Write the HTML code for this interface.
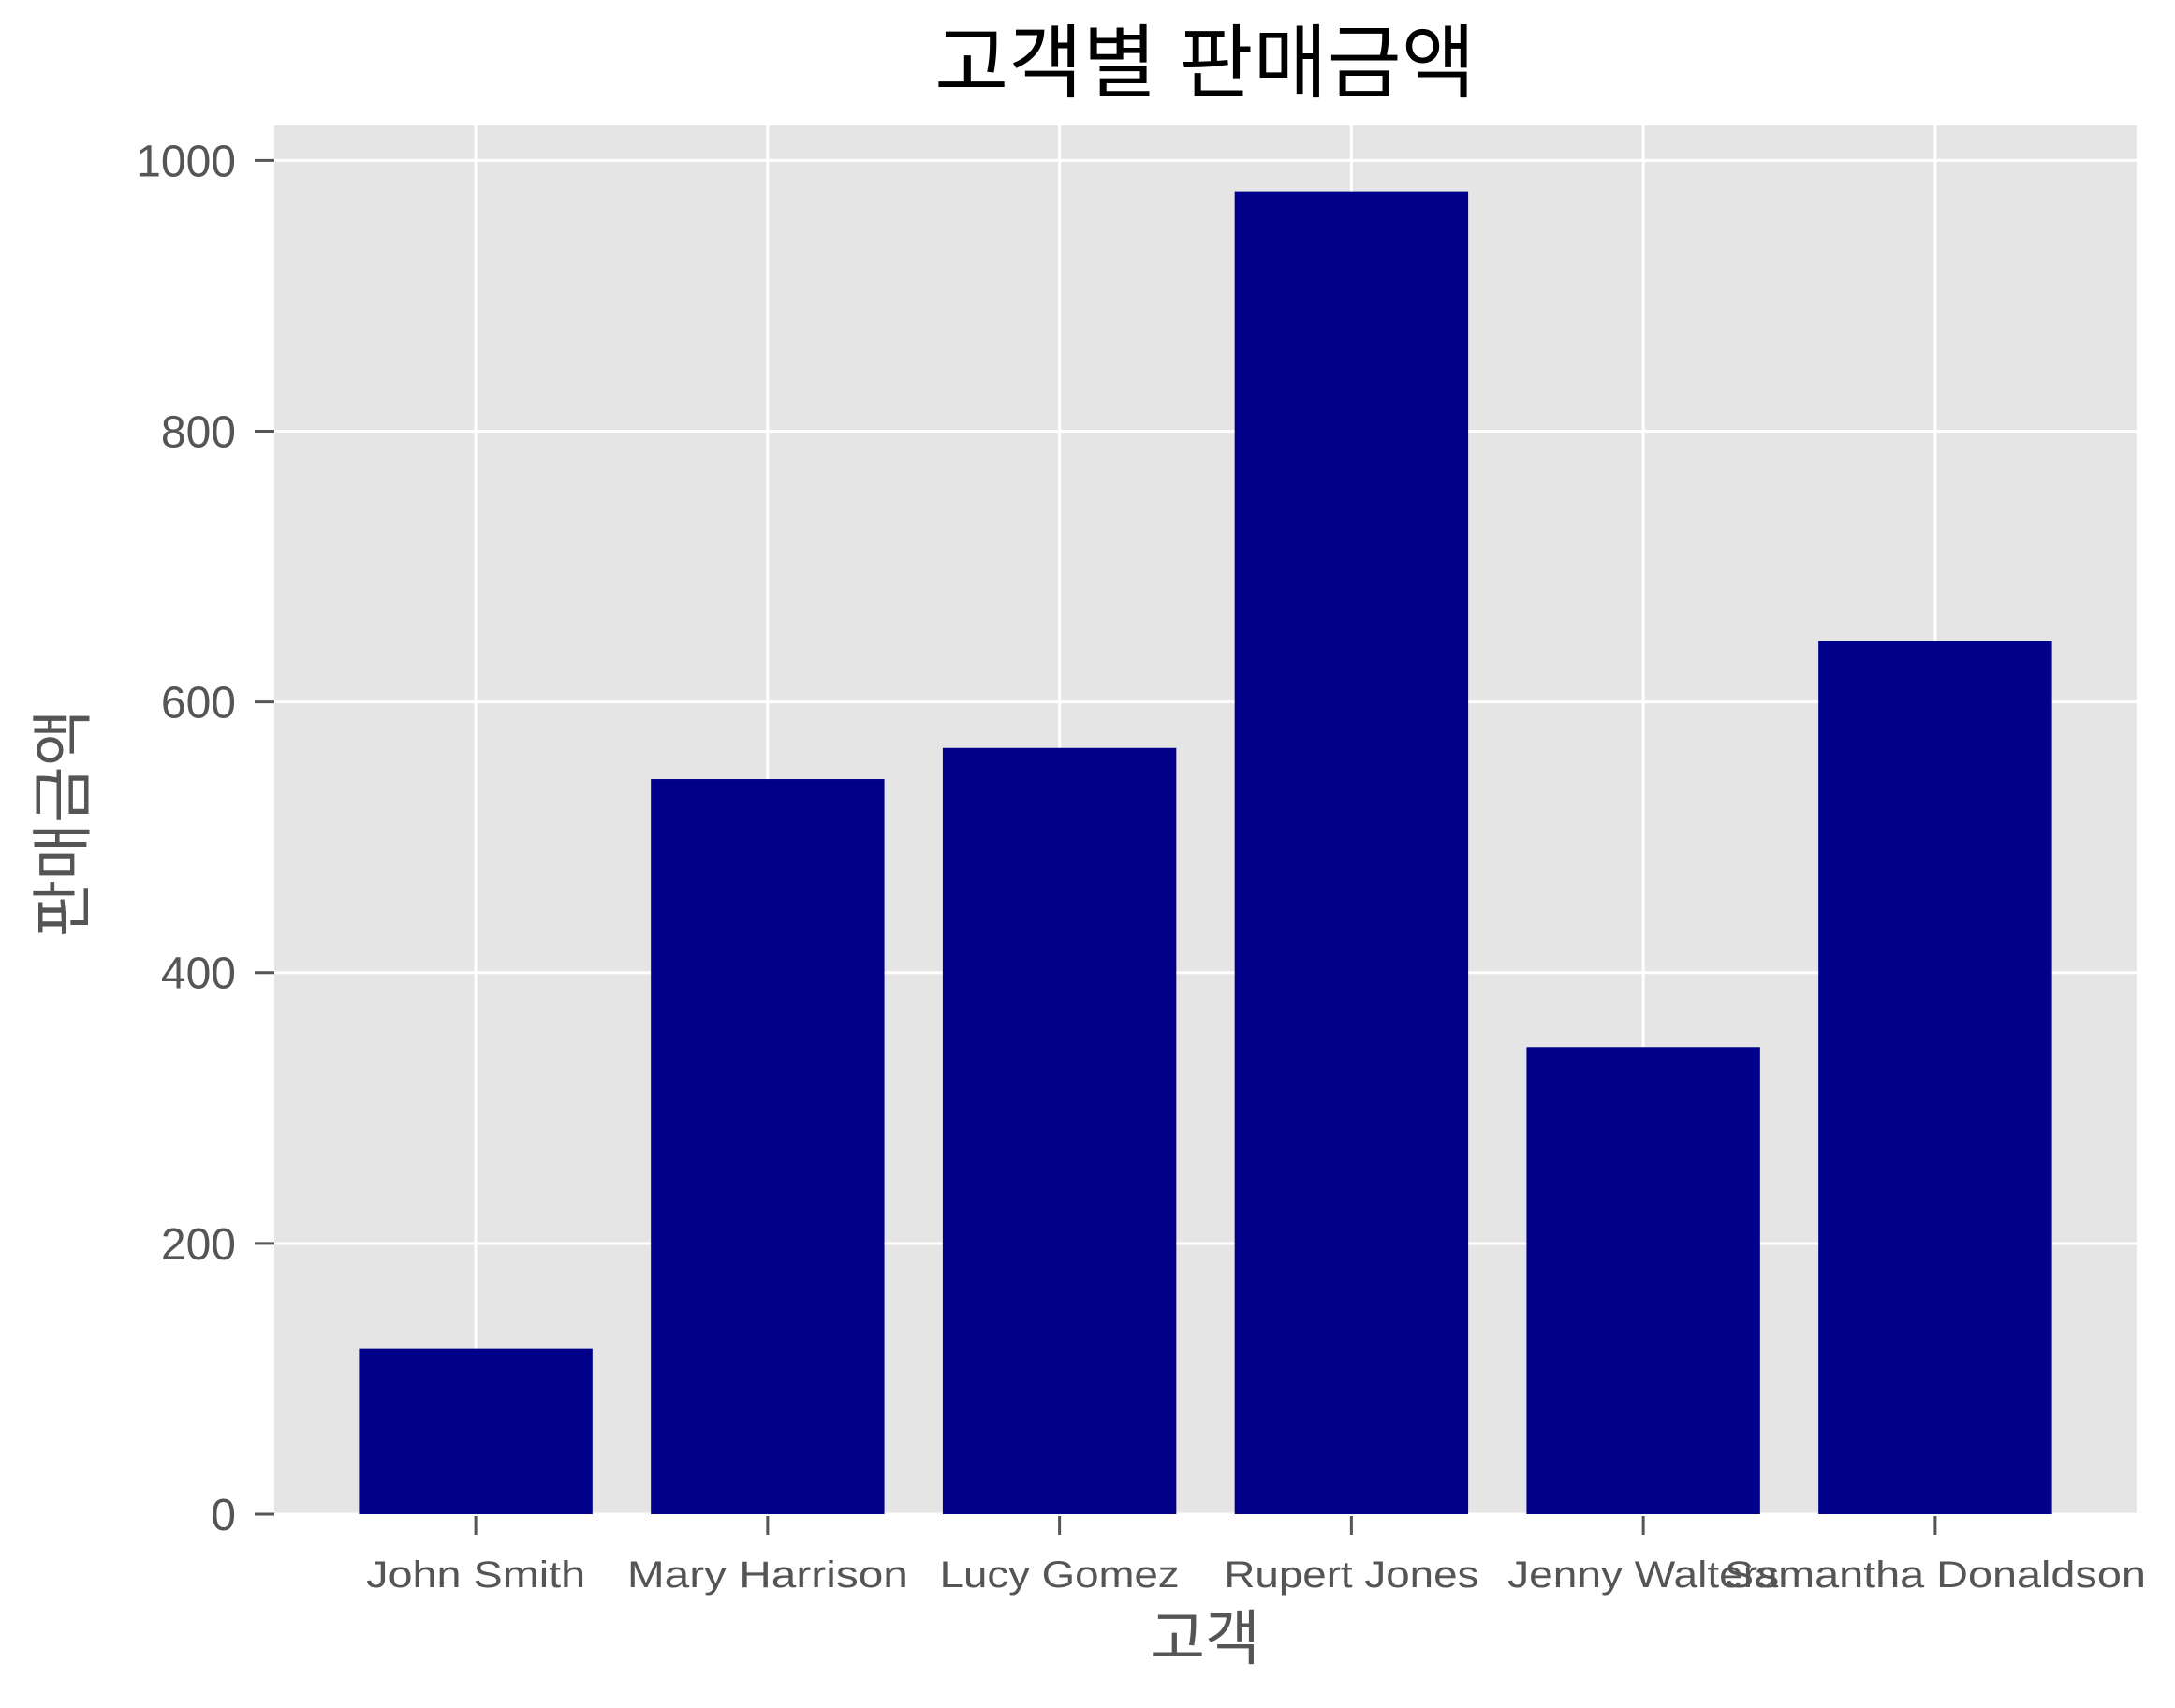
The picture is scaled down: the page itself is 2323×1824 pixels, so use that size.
<!DOCTYPE html>
<html><head><meta charset="utf-8"><style>
html,body{margin:0;padding:0;background:#fff}
svg{display:block}
text{font-family:"Liberation Sans","Noto Sans CJK KR",sans-serif}
</style></head><body>
<svg id="chart" width="2323" height="1824" viewBox="0 0 2323 1824" xmlns="http://www.w3.org/2000/svg">
<rect x="293" y="134" width="1989" height="1483" fill="#e5e5e5"/>
<g id="grid"></g>
<g id="bars"></g>
<g id="yaxis"></g>
<g id="xaxis"></g>
<text x="1287" y="97" text-anchor="middle" font-size="86" fill="#000">고객별 판매금액</text>
<text x="1287" y="1772" text-anchor="middle" font-size="64" fill="#555">고객</text>
<text x="0" y="0" transform="translate(90,879) rotate(-90)" text-anchor="middle" font-size="66" fill="#555">판매금액</text>
</svg>
<script>
const categories = ["John Smith","Mary Harrison","Lucy Gomez","Rupert Jones","Jenny Walters","Samantha Donaldson"];
const values = [122, 543, 566, 977, 345, 645];
const yTicks = [0, 200, 400, 600, 800, 1000];
const labelWidths = [234, 300, 256, 272, 290, 450];

const NS = "http://www.w3.org/2000/svg";
const plotLeft = 293, plotRight = 2282, plotTop = 134, plotBottom = 1617;
const xMin = -0.69, xMax = categories.length - 1 + 0.69;
const yMax = Math.max(...values) * 1.05;
function xs(i){ return plotLeft + (i - xMin) / (xMax - xMin) * (plotRight - plotLeft); }
function ys(v){ return plotBottom - v / yMax * (plotBottom - plotTop); }
const band = (plotRight - plotLeft) / (xMax - xMin);
function mk(tag, attrs, parent){ const e = document.createElementNS(NS, tag); for (const k in attrs) e.setAttribute(k, attrs[k]); parent.appendChild(e); return e; }

const gridG = document.getElementById("grid");
const barsG = document.getElementById("bars");
const yaxisG = document.getElementById("yaxis");
const xaxisG = document.getElementById("xaxis");

yTicks.forEach(t => {
  const y = ys(t);
  const g = mk("line", {x1:plotLeft, x2:plotRight, y1:y, y2:y, stroke:"#fff", "stroke-width":3}, gridG);
  
  
  const tk = mk("line", {x1:272, x2:293, y1:y, y2:y, stroke:"#555", "stroke-width":3}, yaxisG);
  
  
  const lb = mk("text", {x:252, y:y+17, "text-anchor":"end", "font-size":"48", fill:"#555"}, yaxisG);
  lb.textContent = t;
  
  
});

categories.forEach((c, i) => {
  const x = xs(i);
  const g = mk("line", {x1:x, x2:x, y1:plotTop, y2:plotBottom, stroke:"#fff", "stroke-width":3}, gridG);
  
  
  const w = band * 0.8;
  const b = mk("rect", {x:x - w/2, y:ys(values[i]), width:w, height:plotBottom - ys(values[i]), fill:"#00008b"}, barsG);
  
  
  const tk = mk("line", {x1:x, x2:x, y1:1619, y2:1639, stroke:"#555", "stroke-width":3}, xaxisG);
  
  
  const lb = mk("text", {x:x, y:1695, "text-anchor":"middle", "font-size":"40", fill:"#555", textLength:labelWidths[i], lengthAdjust:"spacingAndGlyphs"}, xaxisG);
  lb.textContent = c;
  
  
});
</script>
</body></html>
